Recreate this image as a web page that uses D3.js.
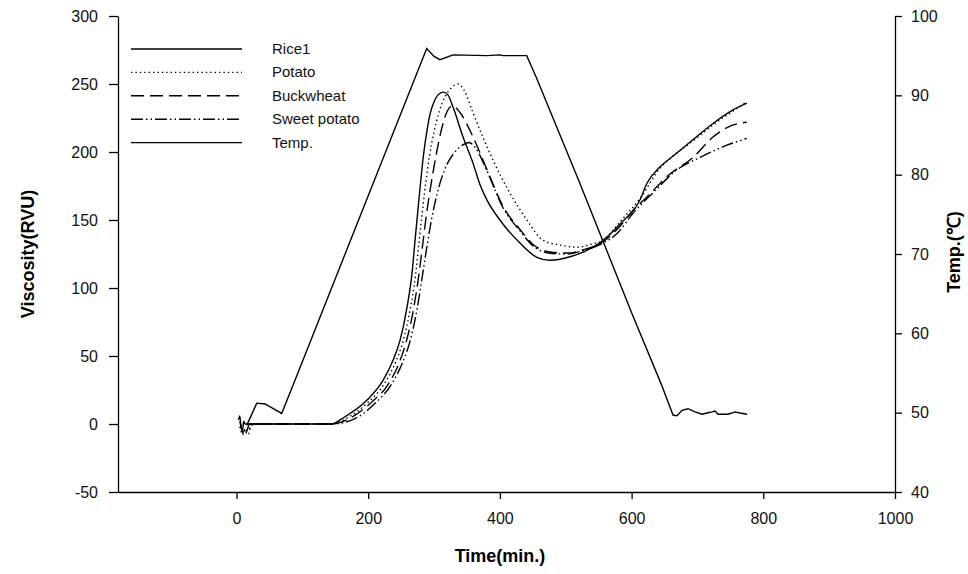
<!DOCTYPE html>
<html>
<head>
<meta charset="utf-8">
<script src="https://cdn.jsdelivr.net/npm/d3@7/dist/d3.min.js"></script>
<style>
  html, body { margin: 0; padding: 0; background: #fff; }
  svg { display: block; font-family: "Liberation Sans", Arial, sans-serif; }
</style>
</head>
<body>
<svg id="chart" width="968" height="574"></svg>
<script>
// RVA pasting profiles: time (x) vs viscosity (RVU) and temperature (°C)
const xTicks = [0, 200, 400, 600, 800, 1000];
const viscTicks = [-50, 0, 50, 100, 150, 200, 250, 300];
const tempTicks = [40, 50, 60, 70, 80, 90, 100];

const seriesNames = ["Rice1", "Potato", "Buckwheat", "Sweet potato", "Temp."];

// [time, viscosity]
const rice1 = [
  [3, 3], [5, 6], [7, -3], [9, -5], [11, 2], [13, 0], [15, 0], [80, 0], [144.6, 0],
  [161.7, 4.4], [198.2, 17.6], [222.5, 32.1], [237.7, 46.8], [248.3, 61.5], [258.9, 85.8],
  [266.5, 110.8], [271.1, 135], [276, 160], [280, 180], [284, 198], [289, 215], [294, 228],
  [300, 237], [306, 242], [314, 244], [321, 242], [328.8, 233], [344, 211], [359, 192],
  [369.8, 176], [380, 165], [400, 150], [430.5, 133], [456, 122.6], [476, 120.4],
  [506.5, 123], [529, 127], [556.6, 135], [582.4, 147], [612.6, 164.7], [623.3, 177],
  [643, 189], [663, 197], [693, 209], [723.6, 221], [754, 231], [775, 236]
];
const potato = [
  [5, -2], [9, -8], [13, -5], [18, -7], [22, -2], [26, 0], [80, 0], [145, 0],
  [170, 5], [200, 16], [225, 30], [242, 46], [253, 61], [264, 85], [272, 110], [277, 133],
  [282, 155], [287, 176], [293, 197], [300, 215], [308, 230], [317, 241], [326, 247], [336, 250],
  [345, 246], [359, 229], [375, 210], [389.5, 194], [415, 170], [441, 150], [465.5, 135],
  [491, 131.6], [517, 130], [541, 132.5], [557, 135], [583, 149], [613, 166], [643, 188],
  [663, 197], [693, 208], [724, 220], [754, 230], [775, 237]
];
const buckwheat = [
  [5, 2], [8, -4], [12, -9], [15, -6], [20, 0], [80, 0], [145, 0],
  [175, 5], [205, 16], [230, 29], [247, 45], [258, 61], [269, 85], [277, 110], [283, 133],
  [289, 156], [296, 178], [304, 200], [312, 218], [320, 230], [328, 234], [339.4, 229],
  [359.2, 211], [380.4, 187], [404.7, 160], [430.5, 143], [450.3, 132], [476, 126.5],
  [501.9, 125.7], [526.2, 128], [556.6, 134], [577.8, 143], [602.1, 157], [623.4, 167],
  [653.8, 182], [693.2, 196], [723.6, 211], [744.9, 218], [775, 222]
];
const sweetPotato = [
  [6, 0], [10, -6], [14, -3], [18, -5], [22, 0], [80, 0], [145, 0],
  [180, 4], [210, 15], [235, 29], [252, 45], [263, 60], [274, 84], [282, 108], [289, 130],
  [296, 150], [305, 170], [316, 187], [330, 199], [343, 205], [353, 207], [363, 203],
  [380.4, 186], [404.7, 159], [430.5, 142], [450.3, 131], [476, 125.5], [501.9, 125],
  [526.2, 127.5], [556.6, 133], [577.8, 140], [602.1, 155], [632.5, 170], [669, 187],
  [703.9, 196], [744.9, 205], [775, 210]
];
// [time, temperature °C]
const temperature = [
  [15.5, 48.4], [30.7, 51.2], [43.3, 51.1], [68.6, 49.9], [88.8, 54.1], [288.8, 95.9],
  [300, 94.9], [309, 94.5], [328.8, 95.1], [380, 95.0], [400, 95.1], [405, 95.0],
  [440.7, 95.0], [455, 92.3], [520, 79.2], [600, 62.6], [645, 53.6], [662.9, 49.7],
  [669, 49.6], [676.5, 50.3], [685.6, 50.5],
  [696.3, 50.1], [706.9, 49.8], [714.5, 49.96], [722.1, 50.1], [726.7, 50.2], [731.2, 49.8],
  [746.4, 49.8], [757, 50.1], [764.6, 49.96], [775.3, 49.8]
];

const svg = d3.select("#chart");
const plotLeft = 118, plotRight = 895, plotTop = 16, plotBottom = 492;

const x = d3.scaleLinear().domain([-180, 1000]).range([plotLeft, plotRight]);
const yV = d3.scaleLinear().domain([-50, 300]).range([plotBottom, plotTop]);
const yT = d3.scaleLinear().domain([40, 100]).range([plotBottom, plotTop]);

const plain = d => String(d);

// Axes
const axisStyle = g => {
  g.selectAll("path.domain").attr("stroke", "#000").attr("stroke-width", 1.3);
  g.selectAll(".tick line").attr("stroke", "#000").attr("stroke-width", 1.3);
  g.selectAll(".tick text").attr("fill", "#111").attr("font-size", 16)
    .attr("font-family", "'Liberation Sans', Arial, sans-serif");
};

svg.append("g")
  .attr("transform", `translate(0,${plotBottom})`)
  .call(d3.axisBottom(x).tickValues(xTicks).tickFormat(plain).tickSize(7).tickSizeOuter(0).tickPadding(14))
  .call(axisStyle);

svg.append("g")
  .attr("transform", `translate(${plotLeft},0)`)
  .call(d3.axisLeft(yV).tickValues(viscTicks).tickFormat(plain).tickSize(9).tickSizeOuter(0).tickPadding(11))
  .call(axisStyle);

svg.append("g")
  .attr("transform", `translate(${plotRight},0)`)
  .call(d3.axisRight(yT).tickValues(tempTicks).tickFormat(plain).tickSize(7).tickSizeOuter(0).tickPadding(9))
  .call(axisStyle);

// Axis titles
svg.append("text")
  .attr("x", 500).attr("y", 562)
  .attr("text-anchor", "middle")
  .attr("font-size", 18).attr("font-weight", "bold")
  .text("Time(min.)");

svg.append("text")
  .attr("transform", `translate(34,${(plotTop + plotBottom) / 2}) rotate(-90)`)
  .attr("text-anchor", "middle")
  .attr("font-size", 18).attr("font-weight", "bold")
  .text("Viscosity(RVU)");

svg.append("text")
  .attr("transform", `translate(960,${(plotTop + plotBottom) / 2 - 2}) rotate(-90)`)
  .attr("text-anchor", "middle")
  .attr("font-size", 18).attr("font-weight", "bold")
  .text("Temp.(\u2103)");

// Series
const styles = [
  { data: rice1, y: yV, dash: null },
  { data: potato, y: yV, dash: "1.4,3" },
  { data: buckwheat, y: yV, dash: "13,6" },
  { data: sweetPotato, y: yV, dash: "12,3,1.5,3,1.5,3" },
  { data: temperature, y: yT, dash: null, linear: true }
];

styles.forEach(s => {
  const line = d3.line()
    .x(d => x(d[0]))
    .y(d => s.y(d[1]))
    .curve(s.linear ? d3.curveLinear : d3.curveMonotoneX);
  svg.append("path")
    .datum(s.data)
    .attr("fill", "none")
    .attr("stroke", "#000")
    .attr("stroke-width", 1.4)
    .attr("stroke-dasharray", s.dash)
    .attr("d", line);
});

// Legend
const legend = svg.append("g");
seriesNames.forEach((name, i) => {
  const yy = 49 + i * 23.4;
  legend.append("line")
    .attr("x1", 131).attr("x2", 242).attr("y1", yy).attr("y2", yy)
    .attr("stroke", "#000").attr("stroke-width", 1.4)
    .attr("stroke-dasharray", styles[i].dash);
  legend.append("text")
    .attr("x", 272).attr("y", yy + 5)
    .attr("font-size", 15).attr("fill", "#111")
    .text(name);
});
</script>
</body>
</html>
